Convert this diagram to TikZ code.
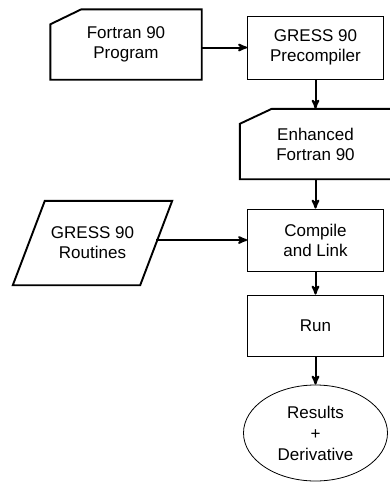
\documentclass[tikz,border=0pt]{standalone}
\usepackage{fontspec}
\setmainfont{Liberation Sans}
\usetikzlibrary{arrows}
\usetikzlibrary{shapes}
\usetikzlibrary{shapes.geometric}

\tikzstyle{block}=[
   rectangle,
   draw=black,
   line width=0.8pt,
   align=center,
   minimum width=136pt,
   font=\fontsize{17}{20}\selectfont
]
\tikzstyle{card}=[
   rectangle,
   align=center,
   minimum width=151pt,
   minimum height=70pt,
   font=\fontsize{17}{20}\selectfont
]
\tikzstyle{cardline}=[-,line width=1.9pt,line join=miter]
\tikzstyle{flow}=[->,>=stealth',line width=2pt]

\begin{document}
\begin{tikzpicture}[x=1pt,y=-1pt]
  \useasboundingbox (0,0) rectangle (390,483);

  \node[card]   (prog)  at (126,44.5)   {Fortran 90\\Program};
  \node[block,minimum height=63pt]   (prec)  at (315.5,47.5)  {GRESS 90\\Precompiler};
  \node[card]   (enh)   at (315.5,144)  {Enhanced\\Fortran 90};
  \node[block,minimum height=62pt]   (comp)  at (315.5,240)   {Compile\\and Link};
  \node[card,minimum width=127pt,minimum height=84pt] (rout) at (92.5,243) {GRESS 90\\Routines};
  \node[block,minimum height=61pt]   (run)   at (315.5,325.5) {Run};
  \node[ellipse,draw,line width=0.8pt,inner sep=0pt,minimum width=144pt,minimum height=96pt,
        align=center,font=\fontsize{17}{21}\selectfont] (res) at (315.5,433) {Results\\+\\Derivative};

  % card and parallelogram outlines
  \draw[cardline] ([yshift=-15pt]prog.north west) -- ([xshift=31pt]prog.north west)
        -- (prog.north east) -- (prog.south east) -- (prog.south west) -- cycle;
  \draw[cardline] ([yshift=-15pt]enh.north west) -- ([xshift=32pt]enh.north west)
        -- (enh.north east) -- (enh.south east) -- (enh.south west) -- cycle;
  \draw[cardline] ([xshift=16pt]rout.north west) -- ([xshift=16pt]rout.north east)
        -- ([xshift=-16pt]rout.south east) -- ([xshift=-16pt]rout.south west) -- cycle;

  \draw[flow] (prog.east |- prec.west) -- (prec.west);
  \draw[flow] (rout.east |- comp.west) -- (comp.west);
  \draw[flow] (prec) -- (enh);
  \draw[flow] (enh)  -- (comp);
  \draw[flow] (comp) -- (run);
  \draw[flow] (run)  -- (res);

\end{tikzpicture}
\end{document}
